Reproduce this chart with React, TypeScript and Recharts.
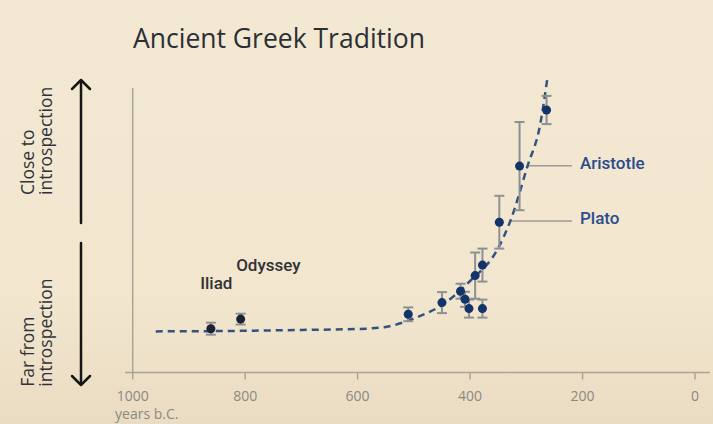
import {
  ComposedChart,
  Scatter,
  Line,
  XAxis,
  YAxis,
  ErrorBar,
  ReferenceLine,
  ReferenceDot,
  Cell,
} from "recharts";

// works dated in years b.C., introspection score and its uncertainty
const years = [861, 808, 510, 450, 417, 409, 402, 391, 378, 378, 348, 312, 264];
const scores = [14.6, 17.8, 19.4, 23.3, 27.1, 24.4, 21.3, 32.3, 35.8, 21.3, 50.1, 68.8, 87.5];
const errors = [2, 1.8, 2.3, 3.5, 2.5, 2.5, 3, 7.7, 5.5, 3, 8.8, 14.7, 4.7];

// fitted trend (dashed)
const trendYears = [959, 800, 700, 600, 550, 500, 450, 400, 350, 329, 298, 275, 263];
const trendScores = [13.7, 13.9, 14.2, 14.5, 15.2, 18, 22.5, 30.5, 41.5, 50.2, 68.7, 83, 97.5];

const xTicks = [1000, 800, 600, 400, 200, 0];

const points = years.map((year, i) => ({ year, score: scores[i], err: errors[i] }));
const trend = trendYears.map((year, i) => ({ year, score: trendScores[i] }));

const bg = "#f2e6cf";
const axisGray = "#a9a598";
const navy = "#12346a";
const labelBlue = "#2b4c8c";

const textFont = "'Open Sans', sans-serif";
const labelFont = "Roboto, sans-serif";

export default function App() {
  return (
    <div
      style={{
        position: "absolute",
        left: 0,
        top: 0,
        width: 713,
        height: 424,
        background: `linear-gradient(180deg, #f3e8d2 0%, ${bg} 70%, #eadcc2 100%)`,
        overflow: "hidden",
      }}
    >
      <ComposedChart
        width={713}
        height={424}
        margin={{ top: 72.5, right: 3, bottom: 21.5, left: 125 }}
      >
        <XAxis
          dataKey="year"
          type="number"
          domain={[0, 1000]}
          reversed
          ticks={xTicks}
          padding={{ left: 7.7, right: 15 }}
          height={30}
          stroke={axisGray}
          strokeWidth={1.5}
          tickSize={7}
          tickMargin={12}
          tick={{ fill: "#8a8983", fontSize: 14, fontFamily: textFont }}
        />
        <YAxis dataKey="score" type="number" domain={[0, 100]} hide width={0} />

        <ReferenceLine
          segment={[
            { x: 1000, y: 0 },
            { x: 1000, y: 94.8 },
          ]}
          stroke={axisGray}
          strokeWidth={1.5}
          ifOverflow="visible"
        />

        <ReferenceLine
          segment={[
            { x: 299, y: 68.9 },
            { x: 219, y: 68.9 },
          ]}
          stroke="#9a9b98"
          strokeWidth={1.5}
        />
        <ReferenceLine
          segment={[
            { x: 329, y: 50.5 },
            { x: 219, y: 50.5 },
          ]}
          stroke="#9a9b98"
          strokeWidth={1.5}
        />

        <Line
          data={trend}
          dataKey="score"
          type="monotone"
          stroke="#34527f"
          strokeWidth={2.5}
          strokeDasharray="7 5"
          dot={false}
          isAnimationActive={false}
        />

        <Scatter data={points} dataKey="score" isAnimationActive={false} fill={navy}>
          {points.map((p, i) => (
            <Cell key={i} fill={p.year > 700 ? "#1b2333" : navy} />
          ))}
          <ErrorBar dataKey="err" direction="y" width={5} stroke="#8d9194" strokeWidth={2} />
        </Scatter>

        <ReferenceDot
          x={880}
          y={29.7}
          r={0}
          fill="none"
          stroke="none"
          label={{ value: "Iliad", position: "right", offset: 0, fill: "#303236", fontSize: 17, fontWeight: 500, fontFamily: labelFont }}
        />
        <ReferenceDot
          x={816}
          y={35.8}
          r={0}
          fill="none"
          stroke="none"
          label={{ value: "Odyssey", position: "right", offset: 0, fill: "#303236", fontSize: 17, fontWeight: 500, fontFamily: labelFont }}
        />
        <ReferenceDot
          x={204.5}
          y={69.8}
          r={0}
          fill="none"
          stroke="none"
          label={{ value: "Aristotle", position: "right", offset: 0, fill: labelBlue, fontSize: 17, fontWeight: 500, fontFamily: labelFont }}
        />
        <ReferenceDot
          x={204.5}
          y={51.4}
          r={0}
          fill="none"
          stroke="none"
          label={{ value: "Plato", position: "right", offset: 0, fill: labelBlue, fontSize: 17, fontWeight: 500, fontFamily: labelFont }}
        />
      </ComposedChart>

      <svg
        width={713}
        height={424}
        style={{ position: "absolute", left: 0, top: 0, pointerEvents: "none" }}
      >
        <text x={133} y={47.7} fontSize={26.5} fontFamily={textFont} fill="#2c2f36">
          Ancient Greek Tradition
        </text>

        {/* vertical scale arrows */}
        <g stroke="#161616" strokeWidth={2.5} fill="none" strokeLinecap="round" strokeLinejoin="round">
          <line x1={81} y1={81} x2={81} y2={223} />
          <polyline points="72,89 81,80 90,89" />
          <line x1={81} y1={243} x2={81} y2={384} />
          <polyline points="72,376 81,385 90,376" />
        </g>

        <g fontSize={17.5} fontFamily={textFont} fill="#2f3338">
          <text transform="translate(34.3,195) rotate(-90)">Close to</text>
          <text transform="translate(51.7,195) rotate(-90)">introspection</text>
          <text transform="translate(34.3,386.7) rotate(-90)">Far from</text>
          <text transform="translate(51.7,386.7) rotate(-90)">introspection</text>
        </g>

        <text x={115} y={419} fontSize={14} fontFamily={textFont} fill="#8a8983">
          years b.C.
        </text>
      </svg>
    </div>
  );
}
